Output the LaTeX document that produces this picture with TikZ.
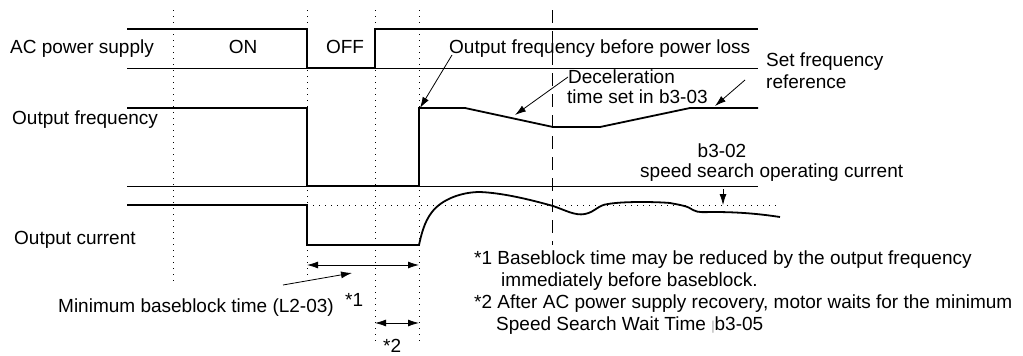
\documentclass[tikz,border=0pt]{standalone}
\usepackage{fontspec}
\setmainfont{Liberation Sans}
\usetikzlibrary{arrows.meta}
\begin{document}
\begin{tikzpicture}[x=1pt,y=-1pt,
  sig/.style={line width=1.8pt,line join=miter},
  thin/.style={line width=0.8pt},
  dotv/.style={line width=1pt,dash pattern=on 1pt off 5pt},
  dashv/.style={line width=0.8pt,dash pattern=on 13pt off 8pt},
  lbl/.style={inner sep=0pt,anchor=base west,font=\fontsize{19}{22}\selectfont},
  clbl/.style={inner sep=0pt,anchor=base,font=\fontsize{19}{22}\selectfont},
  arr/.style={line width=0.8pt,-{Latex[length=11pt,width=7pt]}},
  darr/.style={line width=0.8pt,{Latex[length=11pt,width=7pt]}-{Latex[length=11pt,width=7pt]}}]
\useasboundingbox (0,0) rectangle (1023,356);
% dotted verticals
\draw[dotv] (173,10) -- (173,282);
\draw[dotv] (307,10) -- (307,277);
\draw[dotv] (375,10) -- (375,343);
\draw[dotv] (419,10) -- (419,343);
\draw[dashv] (552,10) -- (552,245);
% baselines
\draw[thin] (127,68) -- (758,68);
\draw[thin] (127,186) -- (758,186);
\draw[dotv] (307,205) -- (780,205);
% AC power
\draw[sig] (127,29) -- (307,29) -- (307,68) -- (375,68) -- (375,29) -- (758,29);
% output frequency
\draw[sig] (127,108) -- (307,108) -- (307,186) -- (419,186) -- (419,108) -- (465,108) -- (553,127) -- (600,127) -- (690,108) -- (758,108);
% output current
\draw[sig] (127,205) -- (307,205) -- (307,245) -- (419,245)
  .. controls (421,236) and (424,222) .. (432,212)
  .. controls (442,199) and (462,192) .. (480,192)
  .. controls (505,193) and (535,201) .. (553,206)
  .. controls (565,210) and (575,216) .. (585,214)
  .. controls (595,212) and (598,205) .. (608,204)
  .. controls (625,201) and (660,202) .. (670,203)
  .. controls (680,205) and (688,206) .. (693,210)
  .. controls (698,213) and (705,212) .. (713,212)
  .. controls (740,212) and (760,214) .. (780,217);
% labels
\node[lbl] (ac) at (10,53) {AC power supply};
\node[clbl] (on) at (243,53) {ON};
\node[clbl] (off) at (345,53) {OFF};
\node[lbl] (of) at (12,124) {Output frequency};
\node[lbl] (oc) at (14,244) {Output current};
\node[lbl] (ofb) at (449,53) {Output frequency before power loss};
\node[lbl] (dec1) at (568,83) {Deceleration};
\node[lbl] (dec2) at (567,103) {time set in b3-03};
\node[lbl] (sf1) at (766,66) {Set frequency};
\node[lbl] (sf2) at (766,88) {reference};
\node[clbl] (b32) at (722,157) {b3-02};
\node[lbl] (ssoc) at (640,177) {speed search operating current};
\node[lbl] (mbt) at (58,312) {Minimum baseblock time (L2-03)};
\node[lbl] (s1) at (345,306) {*1};
\node[lbl] (s2) at (383,352) {*2};
\node[lbl] (n1) at (474,264) {*1 Baseblock time may be reduced by the output frequency};
\node[lbl] (n2) at (501,286) {immediately before baseblock.};
\node[lbl] (n3) at (474,308) {*2 After AC power supply recovery, motor waits for the minimum};
\node[lbl] (n4) at (496,330) {Speed Search Wait Time {\color{black!35}\fontsize{13}{13}\selectfont|}b3-05};
% arrow coordinates
\coordinate (ofbT) at (452,55);
\coordinate (ofbH) at (420,108);
\coordinate (decT) at (568,77);
\coordinate (decH) at (515,115);
\coordinate (sfT) at (745,80);
\coordinate (sfH) at (715,106);
\coordinate (mbtT) at (283,285);
\coordinate (mbtH) at (352,273);
\coordinate (ssT) at (723,189);
\coordinate (ssH) at (723,205);
\coordinate (bb1) at (307,265);
\coordinate (bb2) at (419,265);
\coordinate (sw1) at (375,323);
\coordinate (sw2) at (419,323);
\draw[arr] (ofbT) -- (ofbH);
\draw[arr] (decT) -- (decH);
\draw[arr] (sfT) -- (sfH);
\draw[arr] (mbtT) -- (mbtH);
\draw[arr] (ssT) -- (ssH);
\draw[darr] (bb1) -- (bb2);
\draw[darr] (sw1) -- (sw2);
\end{tikzpicture}
\end{document}
